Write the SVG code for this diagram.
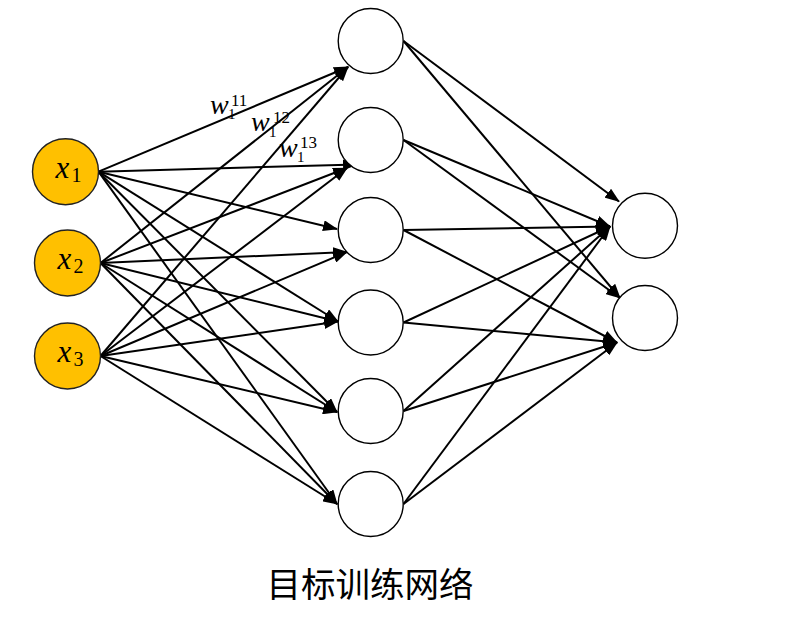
<svg xmlns="http://www.w3.org/2000/svg" width="805" height="640" viewBox="0 0 805 640">
<defs>
<marker id="arr" markerUnits="userSpaceOnUse" markerWidth="15" markerHeight="11" viewBox="0 0 15 11" refX="14" refY="5.5" orient="auto">
<path d="M0,0 L15,5.5 L0,11 z" fill="#000"/>
</marker>
<style>
.in{fill:#FFC000;stroke:#222;stroke-width:1.4}
.nd{fill:#fff;stroke:#000;stroke-width:1.4}
.ln{stroke:#000;stroke-width:2;fill:none;marker-end:url(#arr)}
.v{font-family:"Liberation Serif","DejaVu Serif",serif;font-style:italic;fill:#000}
.d{font-family:"Liberation Serif","DejaVu Serif",serif;fill:#000}
.t{font-family:"Noto Sans CJK SC","Noto Sans CJK JP",sans-serif;font-size:34.5px;fill:#000}
</style>
</defs>
<rect width="805" height="640" fill="#fff"/>
<g id="connectors">
<line class="ln" x1="98.5" y1="171.7" x2="348" y2="67"/>
<line class="ln" x1="100.5" y1="263" x2="348" y2="67"/>
<line class="ln" x1="100.5" y1="356" x2="348" y2="67"/>
<line class="ln" x1="98.5" y1="171.7" x2="357" y2="164.5"/>
<line class="ln" x1="100.5" y1="263" x2="347" y2="168"/>
<line class="ln" x1="100.5" y1="356" x2="347" y2="168"/>
<line class="ln" x1="98.5" y1="171.7" x2="337" y2="229"/>
<line class="ln" x1="100.5" y1="263" x2="347" y2="252"/>
<line class="ln" x1="100.5" y1="356" x2="347" y2="252"/>
<line class="ln" x1="98.5" y1="171.7" x2="338" y2="321.5"/>
<line class="ln" x1="100.5" y1="263" x2="338" y2="321.5"/>
<line class="ln" x1="100.5" y1="356" x2="338" y2="321.5"/>
<line class="ln" x1="98.5" y1="171.7" x2="337" y2="412"/>
<line class="ln" x1="100.5" y1="263" x2="337" y2="412"/>
<line class="ln" x1="100.5" y1="356" x2="337" y2="412"/>
<line class="ln" x1="98.5" y1="171.7" x2="337" y2="504"/>
<line class="ln" x1="100.5" y1="263" x2="337" y2="504"/>
<line class="ln" x1="100.5" y1="356" x2="337" y2="504"/>
<line class="ln" x1="403.5" y1="41" x2="619" y2="201.5"/>
<line class="ln" x1="403.5" y1="41" x2="620" y2="298"/>
<line class="ln" x1="403.5" y1="140" x2="610" y2="226.5"/>
<line class="ln" x1="403.5" y1="140" x2="620" y2="298"/>
<line class="ln" x1="403.5" y1="230" x2="610" y2="226.5"/>
<line class="ln" x1="403.5" y1="230" x2="617" y2="342.5"/>
<line class="ln" x1="403.5" y1="322.5" x2="610" y2="226.5"/>
<line class="ln" x1="403.5" y1="322.5" x2="617" y2="342.5"/>
<line class="ln" x1="403.5" y1="411" x2="610" y2="226.5"/>
<line class="ln" x1="403.5" y1="411" x2="617" y2="342.5"/>
<line class="ln" x1="403.5" y1="504" x2="610" y2="226.5"/>
<line class="ln" x1="403.5" y1="504" x2="617" y2="342.5"/>
</g>
<g id="weight-labels">
<text class="v" x="210" y="113.5" font-size="28">w</text>
<text class="d" x="228" y="118.5" font-size="15">1</text>
<text class="d" x="231" y="105.5" font-size="17">11</text>
<text class="v" x="251" y="130.5" font-size="28">w</text>
<text class="d" x="269" y="136.5" font-size="15">1</text>
<text class="d" x="273" y="122.5" font-size="17">12</text>
<text class="v" x="279" y="157" font-size="28">w</text>
<text class="d" x="297" y="161.5" font-size="15">1</text>
<text class="d" x="300" y="147.5" font-size="17">13</text>
</g>
<g id="x1">
<circle class="in" cx="65.5" cy="171.7" r="33"/>
<text class="v" x="55.5" y="178" font-size="31">x</text>
<text class="d" x="71.5" y="182" font-size="20">1</text>
</g>
<g id="x2">
<circle class="in" cx="67.5" cy="263" r="33"/>
<text class="v" x="57.5" y="269.3" font-size="31">x</text>
<text class="d" x="73.5" y="273.3" font-size="20">2</text>
</g>
<g id="x3">
<circle class="in" cx="67.5" cy="356" r="33"/>
<text class="v" x="57.5" y="362.3" font-size="31">x</text>
<text class="d" x="73.5" y="366.3" font-size="20">3</text>
</g>
<g id="h1"><circle class="nd" cx="370.7" cy="41" r="32.5"/></g>
<g id="h2"><circle class="nd" cx="370.7" cy="140" r="32.5"/></g>
<g id="h3"><circle class="nd" cx="370.7" cy="230" r="32.5"/></g>
<g id="h4"><circle class="nd" cx="370.7" cy="322.5" r="32.5"/></g>
<g id="h5"><circle class="nd" cx="370.7" cy="411" r="32.5"/></g>
<g id="h6"><circle class="nd" cx="370.7" cy="504" r="32.5"/></g>
<g id="o1"><circle class="nd" cx="645" cy="225.7" r="32.5"/></g>
<g id="o2"><circle class="nd" cx="645" cy="318" r="32.5"/></g>
<g id="title">
<text class="t" x="370" y="597" text-anchor="middle">目标训练网络</text>
</g>
</svg>
